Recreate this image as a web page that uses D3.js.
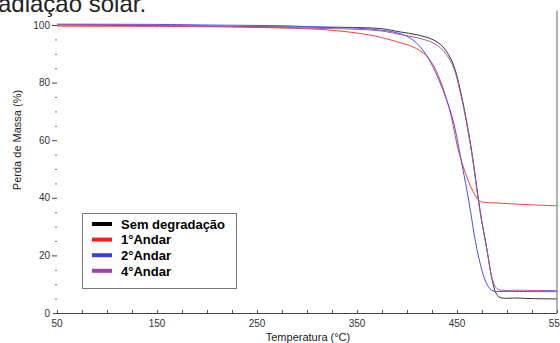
<!DOCTYPE html>
<html>
<head>
<meta charset="utf-8">
<script src="https://cdn.jsdelivr.net/npm/d3@7"></script>
<style>
  body { margin: 0; background: #fff; }
  svg { display: block; font-family: "Liberation Sans", Arial, sans-serif; }
</style>
</head>
<body>
<svg width="560" height="343"></svg>
<script>
// series: [temperature °C, mass %]
const semDegradacao = [
  [50, 100.0], [150, 99.8], [250, 99.4], [350, 99.1], [375, 98.7], [393, 97.6],
  [410, 96.6], [426, 94.9], [436, 92.4], [443, 88.8], [448, 84.6], [453, 77.8],
  [458, 69.5], [465, 55.5], [473, 35.8], [480, 21.9], [485, 11.8], [489, 6.9],
  [493, 5.4], [510, 5.2], [525, 5.0], [550, 4.9]
]
const andar1 = [
  [50, 99.6], [200, 99.4], [280, 98.9], [320, 98.3], [363, 96.5], [393, 93.9],
  [406, 92.4], [418, 89.8], [426, 86.2], [433, 81.0], [443, 70.0], [451, 57.0],
  [456, 51.0], [461, 46.2], [466, 42.2], [471, 39.4], [476, 38.5], [490, 38.2],
  [510, 37.8], [550, 37.2]
]
const andar2 = [
  [50, 100.3], [150, 100.2], [200, 100.0], [280, 99.7], [310, 99.3], [363, 98.6],
  [393, 97.0], [406, 94.8], [418, 90.3], [428, 84.0], [438, 75.5], [446, 67.0],
  [455, 51.5], [462, 38.5], [470, 22.0], [478, 11.5], [483, 8.4], [487, 7.6],
  [500, 7.5], [550, 7.4]
]
const andar4 = [
  [50, 100.2], [150, 99.9], [250, 99.3], [300, 98.9], [350, 98.5], [375, 97.9],
  [393, 96.7], [410, 95.6], [426, 93.8], [436, 91.2], [443, 87.8], [448, 83.8],
  [453, 77.0], [458, 68.8], [465, 54.8], [473, 35.2], [480, 21.8], [485, 12.2],
  [489, 8.8], [493, 8.0], [510, 7.9], [550, 7.8]
]

const seriesNames = ['Sem degradação', '1°Andar', '2°Andar', '4°Andar']
const seriesColors = ['#000000', '#ee2020', '#3a40d0', '#a040a8']
const lineColors = ['#333333', '#f04040', '#4a50e8', '#a855b0']
const seriesData = [semDegradacao, andar1, andar2, andar4]

const xLabelTicks = [50, 150, 250, 350, 450, 550]
const yLabelTicks = [0, 20, 40, 60, 80, 100]

const svg = d3.select('svg')

// clipped doc text above the chart
svg.append('text')
  .attr('x', -10)
  .attr('y', 12)
  .attr('font-size', 24)
  .attr('fill', '#222')
  .text('radiação solar.')

const x = d3.scaleLinear().domain([50, 550]).range([57, 557])
const y = d3.scaleLinear().domain([0, 105]).range([313, 10.6])

// right border
svg.append('line')
  .attr('x1', x(550)).attr('x2', x(550))
  .attr('y1', y(105)).attr('y2', y(0))
  .attr('stroke', '#666').attr('stroke-width', 1)

// x axis
const xAxis = svg.append('g')
xAxis.append('line')
  .attr('x1', x(50) - 4).attr('x2', x(550))
  .attr('y1', y(0) + 0.5).attr('y2', y(0) + 0.5)
  .attr('stroke', '#444')
xAxis.selectAll('.xminor')
  .data(d3.range(50, 551, 25))
  .enter().append('line')
  .attr('x1', (d) => x(d) + 0.5).attr('x2', (d) => x(d) + 0.5)
  .attr('y1', y(0)).attr('y2', y(0) - 3)
  .attr('stroke', '#555')
xAxis.selectAll('text')
  .data(xLabelTicks)
  .enter().append('text')
  .attr('x', (d) => x(d))
  .attr('y', 327)
  .attr('text-anchor', 'middle')
  .attr('font-size', 10)
  .attr('fill', '#333')
  .text((d) => d)

// y axis ticks
const yAxis = svg.append('g')
yAxis.selectAll('.yminor')
  .data(d3.range(0, 106, 5).filter((d) => d % 20 !== 0))
  .enter().append('line')
  .attr('x1', x(50) - 2).attr('x2', x(50))
  .attr('y1', (d) => y(d) + 0.5).attr('y2', (d) => y(d) + 0.5)
  .attr('stroke', '#777')
yAxis.selectAll('.ymajor')
  .data(yLabelTicks.filter((d) => d > 0))
  .enter().append('line')
  .attr('x1', x(50) - 5).attr('x2', x(50))
  .attr('y1', (d) => y(d) + 0.5).attr('y2', (d) => y(d) + 0.5)
  .attr('stroke', '#444')
yAxis.selectAll('text')
  .data(yLabelTicks)
  .enter().append('text')
  .attr('x', 50)
  .attr('y', (d) => y(d) + 3.5)
  .attr('text-anchor', 'end')
  .attr('font-size', 10)
  .attr('fill', '#333')
  .text((d) => d)

// axis titles
svg.append('text')
  .attr('transform', 'translate(21,140) rotate(-90)')
  .attr('text-anchor', 'middle')
  .attr('font-size', 11)
  .attr('fill', '#222')
  .text('Perda de Massa (%)')

svg.append('text')
  .attr('x', 308)
  .attr('y', 341)
  .attr('text-anchor', 'middle')
  .attr('font-size', 11)
  .attr('fill', '#222')
  .text('Temperatura (°C)')

// curves
svg.append('clipPath').attr('id', 'plot')
  .append('rect')
  .attr('x', x(50)).attr('y', y(105))
  .attr('width', x(550) - x(50)).attr('height', y(0) - y(105))

const line = d3.line()
  .x((d) => x(d[0]))
  .y((d) => y(d[1]))
  .curve(d3.curveCatmullRom.alpha(0.5))

svg.append('g')
  .attr('clip-path', 'url(#plot)')
  .selectAll('path')
  .data(seriesData)
  .enter().append('path')
  .attr('d', line)
  .attr('fill', 'none')
  .attr('stroke', (d, i) => lineColors[i])
  .attr('stroke-width', 1)

// legend
const legend = svg.append('g')
legend.append('rect')
  .attr('x', 82.5).attr('y', 213.5)
  .attr('width', 154).attr('height', 75)
  .attr('fill', '#fff')
  .attr('stroke', '#777')

const rows = legend.selectAll('.row')
  .data(seriesNames)
  .enter().append('g')
  .attr('transform', (d, i) => `translate(0, ${224 + i * 15.6})`)
rows.append('line')
  .attr('x1', 92).attr('x2', 112)
  .attr('stroke', (d, i) => seriesColors[i])
  .attr('stroke-width', 4)
rows.append('text')
  .attr('x', 121)
  .attr('y', 4.8)
  .attr('font-size', 13)
  .attr('font-weight', 'bold')
  .attr('fill', '#000')
  .text((d) => d)
</script>
</body>
</html>
